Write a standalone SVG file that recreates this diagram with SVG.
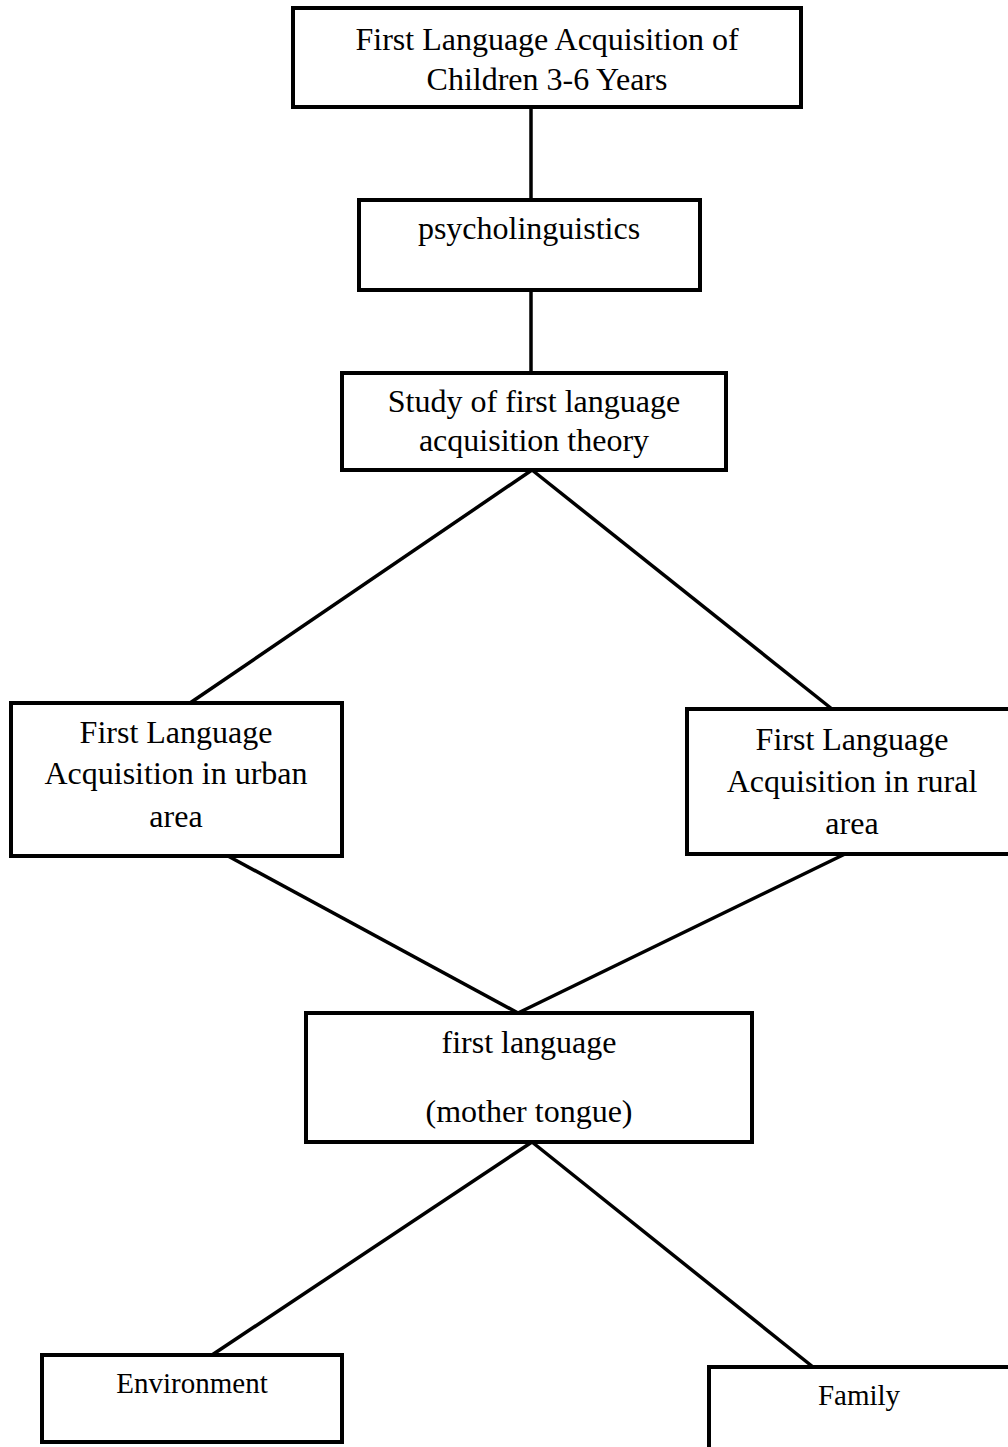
<svg xmlns="http://www.w3.org/2000/svg" width="1008" height="1447" viewBox="0 0 1008 1447">
<style>
.box{fill:#fff;stroke:#000;stroke-width:4}
.t{font-family:"Liberation Serif","Times New Roman",serif;font-size:32px;fill:#000;text-anchor:middle}
.s{font-size:29px}
.c line{stroke:#000;stroke-width:3.5}
</style>
<rect width="1008" height="1447" fill="#fff"/>
<g class="c" id="connectors">
<line x1="531" y1="107" x2="531" y2="200"/>
<line x1="531" y1="290" x2="531" y2="373"/>
<line x1="532" y1="470" x2="190" y2="703"/>
<line x1="532" y1="470" x2="832" y2="709"/>
<line x1="228" y1="856" x2="518" y2="1013"/>
<line x1="845" y1="854" x2="518" y2="1013"/>
<line x1="532" y1="1142" x2="212" y2="1355"/>
<line x1="532" y1="1142" x2="813" y2="1367"/>
</g>
<g id="n1">
<rect class="box" x="293" y="8" width="508" height="99"/>
<text class="t" x="547" y="50">First Language Acquisition of</text>
<text class="t" x="547" y="90">Children 3-6 Years</text>
</g>
<g id="n2">
<rect class="box" x="359" y="200" width="341" height="90"/>
<text class="t" x="529" y="239">psycholinguistics</text>
</g>
<g id="n3">
<rect class="box" x="342" y="373" width="384" height="97"/>
<text class="t" x="534" y="412">Study of first language</text>
<text class="t" x="534" y="451">acquisition theory</text>
</g>
<g id="n4">
<rect class="box" x="11" y="703" width="331" height="153"/>
<text class="t" x="176" y="743">First Language</text>
<text class="t" x="176" y="784">Acquisition in urban</text>
<text class="t" x="176" y="827">area</text>
</g>
<g id="n5">
<rect class="box" x="687" y="709" width="340" height="145"/>
<text class="t" x="852" y="750">First Language</text>
<text class="t" x="852" y="792">Acquisition in rural</text>
<text class="t" x="852" y="834">area</text>
</g>
<g id="n6">
<rect class="box" x="306" y="1013" width="446" height="129"/>
<text class="t" x="529" y="1053">first language</text>
<text class="t" x="529" y="1122">(mother tongue)</text>
</g>
<g id="n7">
<rect class="box" x="42" y="1355" width="300" height="87"/>
<text class="t s" x="192" y="1393">Environment</text>
</g>
<g id="n8">
<rect class="box" x="709" y="1367" width="320" height="100"/>
<text class="t s" x="859" y="1405">Family</text>
</g>
</svg>
